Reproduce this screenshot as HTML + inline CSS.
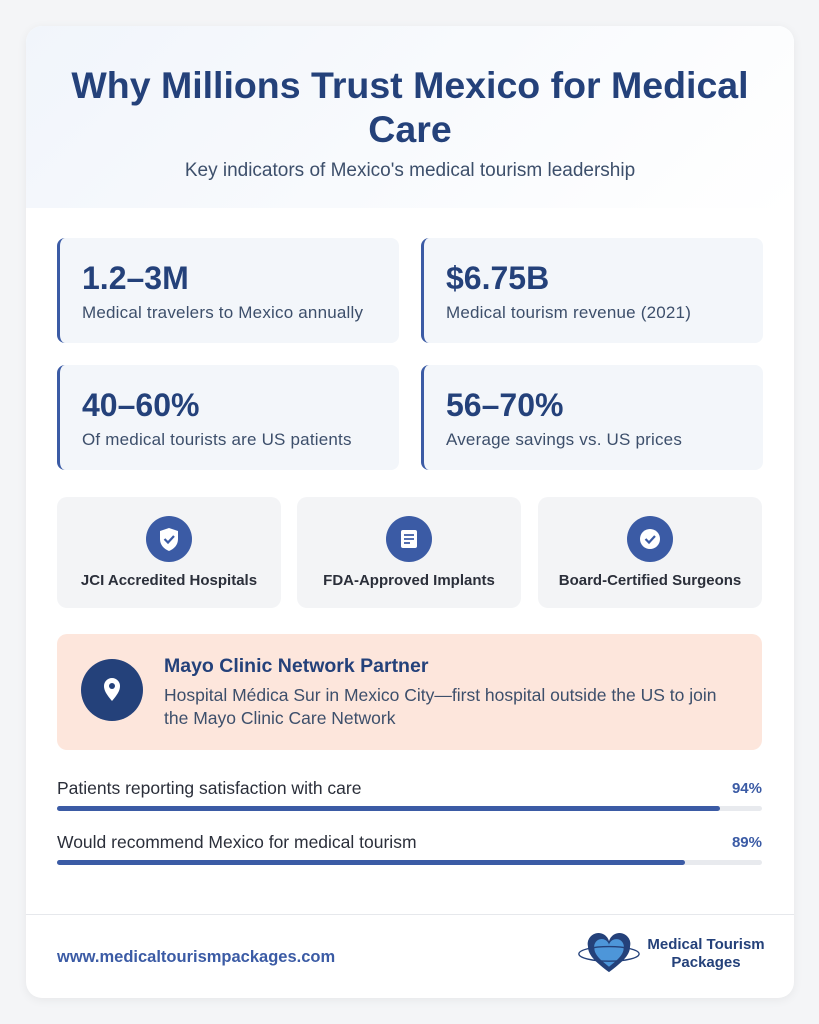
<!DOCTYPE html>
<html><head><meta charset="utf-8"><style>
*{margin:0;padding:0;box-sizing:border-box}
body{width:819px;height:1024px;background:#f4f5f7;font-family:"Liberation Sans","DejaVu Sans",sans-serif;position:relative;overflow:hidden}
.card{position:absolute;left:26px;top:26px;width:768px;height:972px;background:#fff;border-radius:16px;box-shadow:0 2px 10px rgba(0,0,0,0.06);overflow:hidden}
.hdr{position:absolute;left:0;top:0;width:768px;height:182px;background:linear-gradient(135deg,#f1f5fb,#ffffff)}
h1{position:absolute;left:0;width:768px;top:37px;text-align:center;font-size:37.5px;line-height:44px;color:#24417a;font-weight:bold}
.sub{position:absolute;left:0;width:768px;top:134px;text-align:center;font-size:19px;color:#3d4f6b}
.stat{position:absolute;width:342px;height:105px;background:#f3f6fa;border-left:3px solid #3b5ba5;border-radius:8px}
.stat b{position:absolute;left:22px;top:22px;font-size:32px;color:#24417a}
.stat span{position:absolute;left:22px;top:65px;font-size:17px;letter-spacing:0.2px;color:#3d4f6b}
.feat{position:absolute;top:471px;width:224px;height:111px;background:#f3f4f6;border-radius:10px;text-align:center}
.feat .c{position:absolute;left:89px;top:19px;width:46px;height:46px;border-radius:50%;background:#3b5ba5}
.feat .t{position:absolute;left:0;width:224px;top:75px;font-size:15px;font-weight:bold;color:#2b2f3a}
.mayo{position:absolute;left:31px;top:608px;width:705px;height:116px;background:#fde6dc;border-radius:10px}
.lbl{position:absolute;left:31px;font-size:17.5px;color:#2b2f3a}
.pct{position:absolute;right:32px;font-size:15px;font-weight:bold;color:#3b5ba5}
.bar{position:absolute;left:31px;width:705px;height:5px;background:#e8eaee;border-radius:3px}
.bar i{display:block;height:5px;background:#3b5ba5;border-radius:3px}
</style></head><body>
<div class="card">
<div class="hdr"></div>
<h1>Why Millions Trust Mexico for Medical<br>Care</h1>
<div class="sub">Key indicators of Mexico's medical tourism leadership</div>

<div class="stat" style="left:31px;top:212px"><b>1.2–3M</b><span>Medical travelers to Mexico annually</span></div>
<div class="stat" style="left:395px;top:212px"><b>$6.75B</b><span>Medical tourism revenue (2021)</span></div>
<div class="stat" style="left:31px;top:339px"><b>40–60%</b><span>Of medical tourists are US patients</span></div>
<div class="stat" style="left:395px;top:339px"><b>56–70%</b><span>Average savings vs. US prices</span></div>

<div class="feat" style="left:31px"><div class="c"><svg width="46" height="46" viewBox="0 0 46 46"><path d="M23 12 L32 15 V23 C32 29 28 33 23 35 C18 33 14 29 14 23 V15 Z" fill="#fff"/><path d="M18.5 23 L22 26.5 L28 20" stroke="#3b5ba5" stroke-width="2.2" fill="none"/></svg></div><div class="t">JCI Accredited Hospitals</div></div>
<div class="feat" style="left:271px"><div class="c"><svg width="46" height="46" viewBox="0 0 46 46"><rect x="15" y="14" width="16" height="18" rx="2" fill="#fff"/><path d="M18 19h10M18 23h10M18 27h6" stroke="#3b5ba5" stroke-width="1.8"/></svg></div><div class="t">FDA-Approved Implants</div></div>
<div class="feat" style="left:512px"><div class="c"><svg width="46" height="46" viewBox="0 0 46 46"><circle cx="23" cy="23" r="10" fill="#fff"/><path d="M18.5 23 L22 26.5 L28 20" stroke="#3b5ba5" stroke-width="2.2" fill="none"/></svg></div><div class="t">Board-Certified Surgeons</div></div>

<div class="mayo">
<svg style="position:absolute;left:24px;top:25px" width="62" height="62" viewBox="0 0 62 62"><circle cx="31" cy="31" r="31" fill="#24417a"/><path d="M31 42 C26 36 23 32 23 27 A8 8 0 0 1 39 27 C39 32 36 36 31 42Z" fill="#fff"/><circle cx="31" cy="27" r="3" fill="#24417a"/></svg>
<div style="position:absolute;left:107px;top:21px;font-size:19.5px;font-weight:bold;color:#24417a">Mayo Clinic Network Partner</div>
<div style="position:absolute;left:107px;top:50px;font-size:17.5px;line-height:23px;color:#3d4f6b;white-space:nowrap">Hospital Médica Sur in Mexico City—first hospital outside the US to join<br>the Mayo Clinic Care Network</div>
</div>

<div class="lbl" style="top:752px">Patients reporting satisfaction with care</div><div class="pct" style="top:754px">94%</div>
<div class="bar" style="top:780px"><i style="width:663px"></i></div>
<div class="lbl" style="top:806px">Would recommend Mexico for medical tourism</div><div class="pct" style="top:808px">89%</div>
<div class="bar" style="top:834px"><i style="width:628px"></i></div>

<div style="position:absolute;left:0;top:888px;width:768px;height:1px;background:#e6e8ec"></div>
<div style="position:absolute;left:31px;top:922px;font-size:16.5px;font-weight:bold;color:#3b5ba5">www.medicaltourismpackages.com</div>
<svg style="position:absolute;left:548px;top:906px" width="70" height="42" viewBox="0 0 70 46"><path d="M35 44 C22 34 12 26 12 16 A10 10 0 0 1 35 10 A10 10 0 0 1 58 16 C58 26 48 34 35 44Z" fill="#24417a"/><path d="M35 38 C26 31 19 25 19 18 A7 7 0 0 1 35 14 A7 7 0 0 1 51 18 C51 25 44 31 35 38Z" fill="#4d96d9"/><ellipse cx="35" cy="24" rx="33" ry="8" fill="none" stroke="#24417a" stroke-width="1.5"/></svg>
<div style="position:absolute;left:620px;top:910px;width:120px;text-align:center;font-size:15px;line-height:18px;font-weight:bold;color:#24417a">Medical Tourism<br>Packages</div>
</div>
</body></html>
